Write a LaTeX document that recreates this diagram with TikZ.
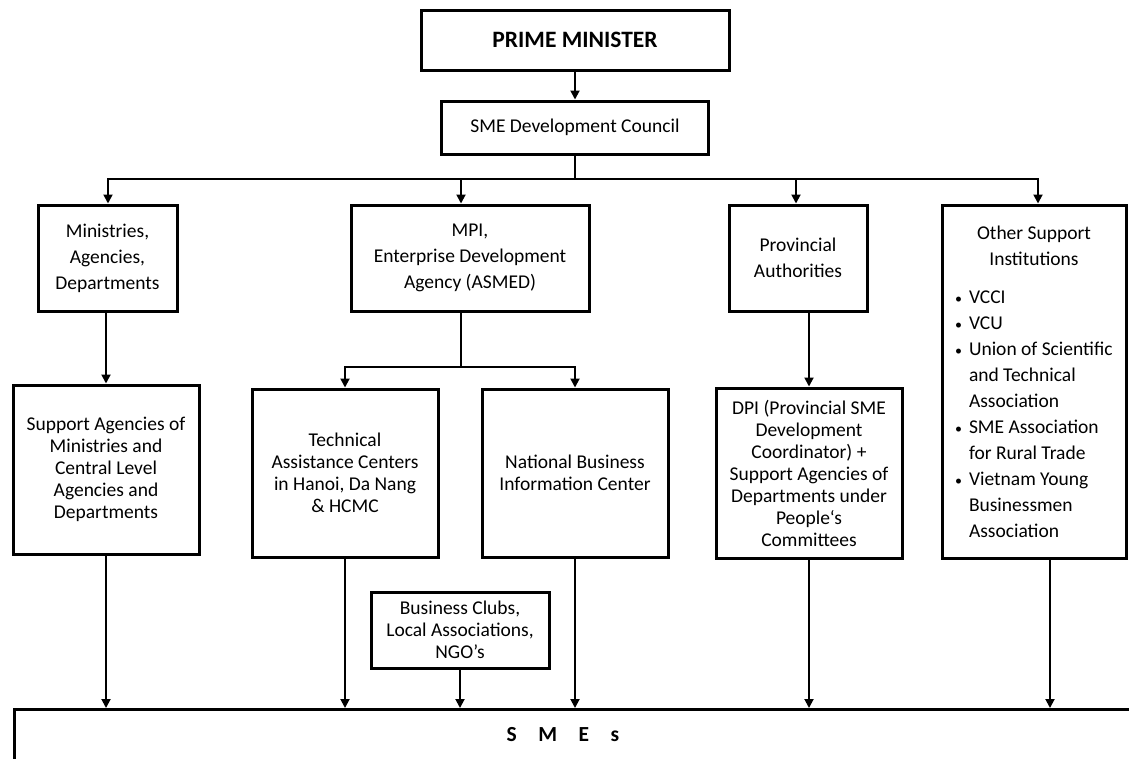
\documentclass[tikz,border=0pt]{standalone}
\usepackage{fontspec}
\setmainfont{Carlito}
\usetikzlibrary{arrows.meta}

\tikzset{
  box/.style={draw, line width=3pt, align=center, inner sep=0pt},
  wire/.style={line width=1.9pt},
  arr/.style={wire, -{Triangle[width=9pt,length=9pt]}},
  toptxt/.style={font=\fontsize{19.5}{26}\selectfont},
  lowtxt/.style={font=\fontsize{19.5}{22}\selectfont},
}
\newcommand{\bul}{\hspace*{9pt}\makebox[14pt][l]{\fontsize{14}{14}\selectfont\textbullet}}

\begin{document}
\begin{tikzpicture}[x=1pt,y=-1pt]
  \useasboundingbox (0,0) rectangle (1129,758);

  \node[box, minimum width=308, minimum height=60, font=\bfseries\fontsize{23.5}{28}\selectfont] (pm) at (575,40) {PRIME MINISTER};
  \node[box, toptxt, minimum width=267, minimum height=53] (council) at (575,127.5) {SME Development Council};

  \node[box, toptxt, minimum width=139, minimum height=106] (min) at (107.5,258) {Ministries,\\Agencies,\\Departments};
  \node[box, toptxt, minimum width=238, minimum height=106] (mpi) at (470,258) {MPI,\\Enterprise Development\\Agency (ASMED)};
  \node[box, toptxt, minimum width=138, minimum height=106] (prov) at (798,258) {Provincial\\Authorities};
  \node[box, toptxt, minimum width=184, minimum height=353, text width=176, align=left] (other) at (1034,381.5)
    {\spaceskip=0pt \xspaceskip=0pt
     {\centering Other Support\\Institutions\par}\vspace{12pt}%
     \raggedright
     \bul VCCI\\
     \bul VCU\\
     \bul Union of Scientific\\
     \hspace*{23pt}and Technical\\
     \hspace*{23pt}Association\\
     \bul SME Association\\
     \hspace*{23pt}for Rural Trade\\
     \bul Vietnam Young\\
     \hspace*{23pt}Businessmen\\
     \hspace*{23pt}Association};

  \node[box, lowtxt, minimum width=186, minimum height=169] (supp) at (106,469.5) {Support Agencies of\\Ministries and\\Central Level\\Agencies and\\Departments};
  \node[box, lowtxt, minimum width=186, minimum height=168] (tac) at (345,473) {Technical\\Assistance Centers\\in Hanoi, Da Nang\\\& HCMC};
  \node[box, lowtxt, minimum width=186, minimum height=168] (nbic) at (575,473) {National Business\\Information Center};
  \node[box, lowtxt, minimum width=186, minimum height=170] (dpi) at (809,473) {DPI (Provincial SME\\Development\\Coordinator) +\\Support Agencies of\\Departments under\\People‘s\\Committees};
  \node[box, lowtxt, minimum width=178, minimum height=76] (clubs) at (460,630) {Business Clubs,\\Local Associations,\\NGO’s};

  \node[box, anchor=north west, minimum width=1250, minimum height=120] (smes) at (13,708) {};
  \node[font=\bfseries\fontsize{21.5}{24}\selectfont] (smestxt) at (563,735) {S\hspace{1em}M\hspace{1em}E\hspace{1em}s};

  % top level
  \draw[arr] (pm) -- (council);
  \coordinate (busL) at (108,179);
  \coordinate (busR) at (1038,179);
  \coordinate (dmpi) at (461,179);
  \coordinate (dprov) at (796,179);
  \draw[wire] (council.south) -- (council.south |- busL);
  \draw[arr] (busL) -- (busL |- min.north);
  \draw[arr, line cap=rect] (busL) -- (busR) -- (busR |- other.north);
  \draw[arr] (dmpi) -- (dmpi |- mpi.north);
  \draw[arr] (dprov) -- (dprov |- prov.north);

  % second level
  \coordinate (mpij) at (461,367);
  \draw[wire] (dmpi |- mpi.south) -- (mpij);
  \draw[arr] (mpij) -| (tac.north);
  \draw[arr] (mpij) -| (nbic.north);
  \draw[arr] (supp.north |- min.south) -- (supp.north);
  \draw[arr] (dpi.north |- prov.south) -- (dpi.north);

  % into the SMEs
  \coordinate (doth) at (1050,558);
  \draw[arr] (supp.south) -- (supp.south |- smes.north);
  \draw[arr] (tac.south) -- (tac.south |- smes.north);
  \draw[arr] (clubs.south) -- (clubs.south |- smes.north);
  \draw[arr] (nbic.south) -- (nbic.south |- smes.north);
  \draw[arr] (dpi.south) -- (dpi.south |- smes.north);
  \draw[arr] (doth) -- (doth |- smes.north);
\end{tikzpicture}
\end{document}
